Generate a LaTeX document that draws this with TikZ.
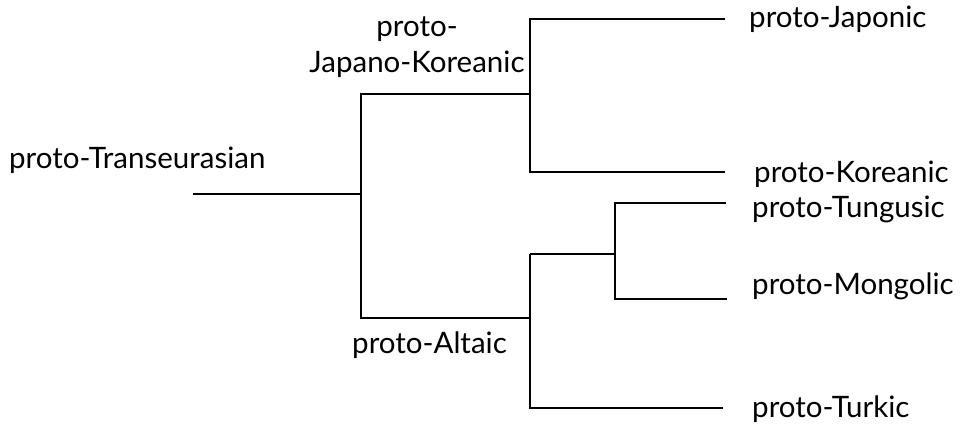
\documentclass[tikz,border=0pt]{standalone}
\usepackage{fontspec}
\setmainfont{Lato}
\begin{document}
\begin{tikzpicture}[x=1pt,y=-1pt,
  branch/.style={line width=2.9pt},
  lbl/.style={anchor=base west,inner sep=0pt,font=\fontsize{29.5}{34}\selectfont},
  clbl/.style={lbl,anchor=base}]
\useasboundingbox (0,0) rectangle (968,426);
% branch points
\coordinate (root) at (193,194);
\coordinate (n1) at (361,194);
\coordinate (n1t) at (361,94);
\coordinate (n1b) at (361,318);
\coordinate (jk) at (530,94);
\coordinate (jkt) at (530,19);
\coordinate (jkb) at (530,172);
\coordinate (al) at (530,318);
\coordinate (alt) at (530,254);
\coordinate (alb) at (530,408);
\coordinate (tm) at (615,254);
\coordinate (tmt) at (615,203);
\coordinate (tmb) at (615,299);
\coordinate (ej) at (725,19);
\coordinate (ek) at (725,172);
\coordinate (et) at (726,203);
\coordinate (em) at (727,299);
\coordinate (etk) at (723,408);
% labels
\node[lbl] (tTE) at (9,168) {proto-Transeurasian};
\node[clbl] (tJK1) at (417,36) {proto-};
\node[clbl] (tJK2) at (417,72) {Japano-Koreanic};
\node[lbl] (tAL) at (352,353) {proto-Altaic};
\node[lbl] (tJ) at (749,27) {proto-Japonic};
\node[lbl] (tK) at (754,182) {proto-Koreanic};
\node[lbl] (tT) at (752,217) {proto-Tungusic};
\node[lbl] (tM) at (752,294) {proto-Mongolic};
\node[lbl] (tTk) at (752,417) {proto-Turkic};
% connectors
\draw[branch] (root) -- (n1);
\draw[branch] (jk) -- (n1t) -- (n1b) -- (al);
\draw[branch] (ej) -- (jkt) -- (jkb) -- (ek);
\draw[branch] (alt) -- (alb) -- (etk);
\draw[branch] (alt) -- (tm);
\draw[branch] (et) -- (tmt) -- (tmb) -- (em);
\end{tikzpicture}
\end{document}
